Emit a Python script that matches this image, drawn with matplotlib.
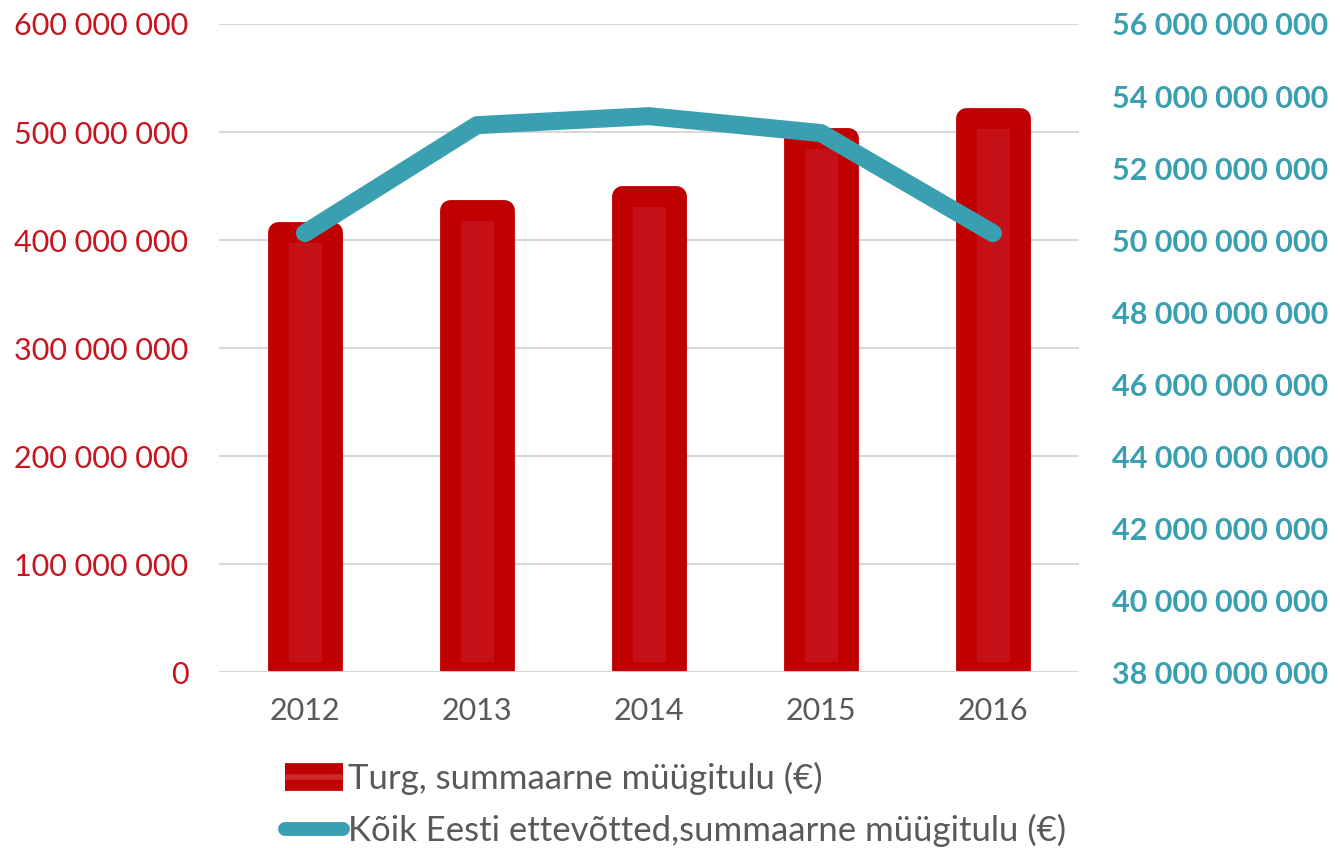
import matplotlib
matplotlib.use("Agg")
import matplotlib.pyplot as plt
from matplotlib.lines import Line2D
from matplotlib.legend_handler import HandlerTuple
from matplotlib.ticker import FuncFormatter

years = ["2012", "2013", "2014", "2015", "2016"]
market_revenue = [407e6, 428e6, 441e6, 494e6, 513e6]
all_companies_revenue = [50.19e9, 53.19e9, 53.44e9, 52.97e9, 50.19e9]
label_market = "Turg, summaarne müügitulu (€)"
label_all = "Kõik Eesti ettevõtted,summaarne müügitulu (€)"

RED_EDGE = "#C00000"
RED_FILL = "#C41016"
RED_TXT = "#C8141E"
TEAL = "#3A9FB0"
GREY_TXT = "#595959"
GRID = "#D9D9D9"

plt.rcParams['font.family'] = ['Lato', 'DejaVu Sans']

fig = plt.figure(figsize=(13.4, 8.48), dpi=100)
ax = fig.add_axes([0.1634, 0.2075, 0.6418, 0.7642])
ax2 = ax.twinx()

x = list(range(len(years)))
ax.bar(x, market_revenue, width=0.314, color=RED_FILL, edgecolor=RED_EDGE,
       linewidth=15, joinstyle='round', zorder=2)
ax.set_ylim(0, 600e6)
ax.set_xlim(-0.5, len(years) - 0.5)
ax.set_yticks([i * 100e6 for i in range(7)])
ax.yaxis.set_major_formatter(FuncFormatter(lambda v, p: f"{int(v):,}".replace(",", " ")))
ax.grid(axis='y', color=GRID, linewidth=1.5, zorder=0)
ax.set_axisbelow(True)
ax.set_xticks(x)
ax.set_xticklabels(years)
ax.tick_params(axis='y', length=0, pad=22, labelsize=22, labelcolor=RED_TXT)
ax.tick_params(axis='x', length=0, pad=18, labelsize=22, labelcolor=GREY_TXT)
for s in ax.spines.values():
    s.set_visible(False)
ax.axhline(0, color=GRID, linewidth=2, zorder=3)

ax2.plot(x, all_companies_revenue, color=TEAL, linewidth=13,
         solid_capstyle='round', solid_joinstyle='round', zorder=4)
ax2.set_ylim(38e9, 56e9)
ax2.set_yticks([38e9 + i * 2e9 for i in range(10)])
ax2.yaxis.set_major_formatter(FuncFormatter(lambda v, p: f"{int(round(v)):,}".replace(",", " ")))
ax2.tick_params(axis='y', length=0, pad=24, labelsize=22, labelcolor=TEAL)
for lab in ax2.get_yticklabels():
    lab.set_fontweight('bold')
for s in ax2.spines.values():
    s.set_visible(False)

h_bar = (Line2D([0], [0], color=RED_EDGE, linewidth=20, solid_capstyle='butt'),
         Line2D([0], [0], color="#CC2A2A", linewidth=4, solid_capstyle='butt'))
h_line = Line2D([0], [0], color=TEAL, linewidth=10, solid_capstyle='round')
leg = fig.legend([h_bar, h_line], [label_market, label_all],
                 handler_map={tuple: HandlerTuple(ndivide=1)},
                 loc='upper left', bbox_to_anchor=(0.213, 0.101), frameon=False,
                 fontsize=25, handlelength=1.65, handletextpad=0.15, labelspacing=0.52,
                 borderaxespad=0, borderpad=0)
for t in leg.get_texts():
    t.set_color(GREY_TXT)

fig.savefig("out.png", dpi=100)
